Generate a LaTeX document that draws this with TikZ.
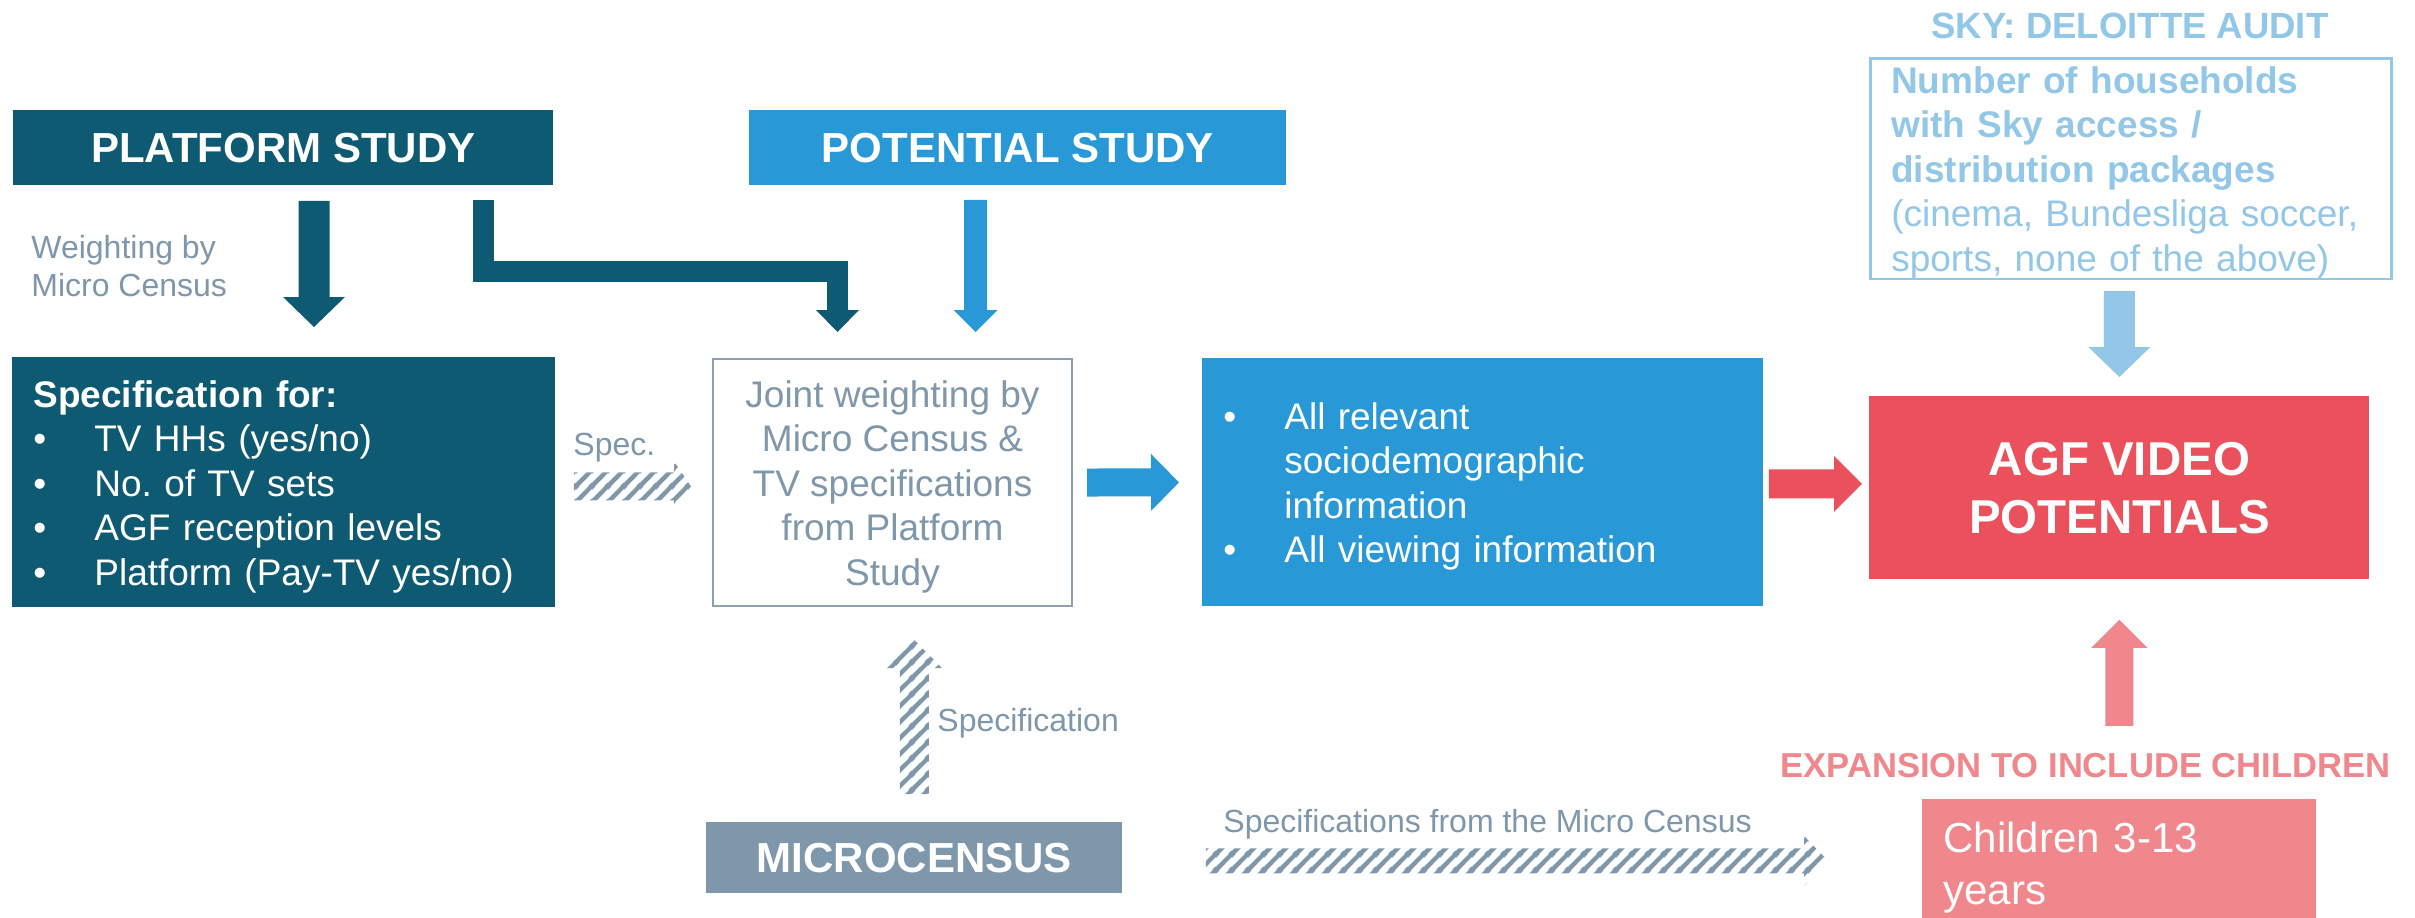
\documentclass[tikz,border=0pt]{standalone}
\usepackage{fontspec}
\setmainfont{Liberation Sans}
\usetikzlibrary{calc,patterns}
\definecolor{cTeal}{HTML}{0F5A73}
\definecolor{cBlue}{HTML}{2899D6}
\definecolor{cGray}{HTML}{7F97AB}
\definecolor{cFrame}{HTML}{8E9FB0}
\definecolor{cSky}{HTML}{93C7E8}
\definecolor{cRed}{HTML}{EA515C}
\definecolor{cPink}{HTML}{F0878C}

\pgfdeclarepatternformonly{hstripes}{\pgfqpoint{0pt}{0pt}}{\pgfqpoint{8pt}{8pt}}{\pgfqpoint{8pt}{8pt}}{%
  \pgfsetlinewidth{2.3pt}%
  \pgfpathmoveto{\pgfqpoint{-1pt}{-1pt}}\pgfpathlineto{\pgfqpoint{9pt}{9pt}}%
  \pgfpathmoveto{\pgfqpoint{-1pt}{7pt}}\pgfpathlineto{\pgfqpoint{1pt}{9pt}}%
  \pgfpathmoveto{\pgfqpoint{7pt}{-1pt}}\pgfpathlineto{\pgfqpoint{9pt}{1pt}}%
  \pgfusepath{stroke}}

% #1 options, #2 start, #3 tip, #4 half shaft, #5 half head, #6 head length
\newcommand\blockarrow[6]{%
  \coordinate (babase) at ($(#3)!#6!(#2)$);
  \path[#1] ($(#2)!#4!90:(#3)$) -- ($(babase)!#4!90:(#3)$) -- ($(babase)!#5!90:(#3)$) -- (#3)
     -- ($(babase)!#5!-90:(#3)$) -- ($(babase)!#4!-90:(#3)$) -- ($(#2)!#4!-90:(#3)$) -- cycle;%
}
\newcommand\fs[2]{\fontsize{#1}{#2}\selectfont}
\newcommand\topstrut{\rule{0pt}{17.5pt}}
\frenchspacing

\begin{document}
\begin{tikzpicture}[x=0.5pt,y=-0.5pt,
  box/.style={rectangle, inner sep=0pt, anchor=north west, text=white},
  headfont/.style={font=\bfseries\fs{21pt}{25pt}},
  body/.style={font=\fs{18.5pt}{22.25pt}},
  lbl/.style={text=cGray, inner sep=0pt, font=\fs{16pt}{19pt}},
  hatch/.style={pattern=hstripes, pattern color=cGray},
]
\path[use as bounding box, fill=white] (0,0) rectangle (2415,917);

% ---------- boxes ----------
\node[box, fill=cTeal, minimum width=270pt, minimum height=37.5pt, headfont] (platform) at (13,110) {PLATFORM STUDY};
\node[box, fill=cBlue, minimum width=268.5pt, minimum height=37.5pt, headfont] (potential) at (749,110) {POTENTIAL STUDY};

\node[box, fill=cTeal, minimum width=271.5pt, minimum height=125pt, body, align=left,
      inner xsep=10.5pt, text width=250.5pt] (spec) at (12,357)
  {\topstrut\textbf{Specification for:}\\
   \makebox[30.5pt][l]{•}TV HHs (yes/no)\\
   \makebox[30.5pt][l]{•}No. of TV sets\\
   \makebox[30.5pt][l]{•}AGF reception levels\\
   \makebox[30.5pt][l]{•}Platform (Pay-TV yes/no)};

\node[box, draw=cFrame, line width=1pt, text=cGray, minimum width=179.5pt, minimum height=123.5pt,
      body, align=center] (joint) at (712,358)
  {\topstrut Joint weighting by\\Micro Census \&\\TV specifications\\from Platform\\Study};

\node[box, fill=cBlue, minimum width=280.5pt, minimum height=124pt, body, align=left,
      inner xsep=10.5pt, text width=259.5pt] (blue) at (1202,358)
  {\topstrut\makebox[30.5pt][l]{•}All relevant\\
   \hspace*{30.5pt}sociodemographic\\
   \hspace*{30.5pt}information\\
   \makebox[30.5pt][l]{•}All viewing information};

\node[box, fill=cRed, minimum width=250pt, minimum height=91.5pt, align=center,
      font=\bfseries\fs{23.75pt}{29pt}] (agf) at (1869,396) {AGF VIDEO\\POTENTIALS};

\node[box, draw=cSky, line width=1.25pt, text=cSky, minimum width=260.5pt, minimum height=109.5pt,
      body, align=left, inner xsep=10.5pt, text width=239.5pt] (sky) at (1869,57)
  {\topstrut\textbf{Number of households}\\
   \textbf{with Sky access /}\\
   \textbf{distribution packages}\\
   (cinema, Bundesliga soccer,\\
   sports, none of the above)};

\node[box, fill=cGray, minimum width=208pt, minimum height=35.5pt,
      font=\bfseries\fs{21pt}{25pt}] (micro) at (706,822) {MICROCENSUS};

\node[box, fill=cPink, minimum width=197pt, minimum height=68pt, align=left,
      inner xsep=10.5pt, text width=176pt, font=\fs{21pt}{26pt}] (children) at (1922,799)
  {Children 3-13\\years};

% ---------- labels ----------
\node[lbl, anchor=west, align=left] (wlabel) at (31,266) {Weighting by\\Micro Census};
\node[lbl, anchor=base west] (speclbl) at (573,455) {Spec.};
\node[lbl, anchor=base west] (spec2lbl) at (937,731) {Specification};
\node[lbl, anchor=base west] (spec3lbl) at (1223,832) {Specifications from the Micro Census};
\node[anchor=base, inner sep=0pt, text=cSky, font=\bfseries\fs{18.25pt}{22pt}] (skytitle) at (2130,38) {SKY: DELOITTE AUDIT};
\node[anchor=base, inner sep=0pt, text=cPink, font=\bfseries\fs{17.3pt}{20pt}] (exptitle) at (2085.5,777) {EXPANSION TO INCLUDE CHILDREN};

% ---------- solid arrows ----------
\coordinate (cx1) at (314,0);
\coordinate (a1s) at ($(platform.south -| cx1)+(0,15)$);
\coordinate (a1t) at ($(spec.north -| cx1)+(0,-30)$);
\blockarrow{fill=cTeal}{a1s}{a1t}{7.75pt}{15.5pt}{15pt}

\coordinate (bx1) at (483.5,271);
\coordinate (bx2) at (837.5,271);
\draw[cTeal, line width=10.5pt, line join=miter] ($(platform.south -| bx1)+(0,14)$) -- (bx1) -- (bx2) -- ($(joint.north -| bx2)+(0,-40)$);
\coordinate (a3s) at ($(joint.north -| bx2)+(0,-50)$);
\coordinate (a3t) at ($(joint.north -| bx2)+(0,-26)$);
\blockarrow{fill=cTeal}{a3s}{a3t}{5.25pt}{10.75pt}{11pt}

\coordinate (cx2) at (975.5,0);
\coordinate (a2s) at ($(potential.south -| cx2)+(0,14)$);
\coordinate (a2t) at ($(joint.north -| cx2)+(0,-26)$);
\blockarrow{fill=cBlue}{a2s}{a2t}{5.75pt}{11pt}{11pt}

\coordinate (a4s) at ($(joint.east)+(14,0)$);
\coordinate (a4t) at ($(blue.west)+(-23,0)$);
\blockarrow{fill=cBlue}{a4s}{a4t}{7pt}{14.25pt}{14pt}

\coordinate (a5s) at ($(blue.east)+(5,1.5)$);
\coordinate (a5t) at ($(agf.west |- a5s)+(-7,0)$);
\blockarrow{fill=cRed}{a5s}{a5t}{7.25pt}{14pt}{14pt}

\coordinate (a6s) at ($(sky.south -| agf.north)+(0,11)$);
\coordinate (a6t) at ($(agf.north)+(0,-19)$);
\blockarrow{fill=cSky}{a6s}{a6t}{7.75pt}{15.5pt}{15pt}

\coordinate (a7s) at ($(agf.south)+(0,146)$);
\coordinate (a7t) at ($(agf.south)+(0,40)$);
\blockarrow{fill=cPink}{a7s}{a7t}{7pt}{14pt}{14pt}

% ---------- hatched arrows ----------
\coordinate (h1s) at ($(spec.east)+(18,4)$);
\coordinate (h1t) at ($(joint.west)+(-21,4)$);
\blockarrow{hatch}{h1s}{h1t}{7pt}{12.5pt}{8.5pt}

\coordinate (h2s) at ($(micro.north)+(0,-28)$);
\coordinate (h2t) at ($(joint.south -| micro.north)+(0,33)$);
\blockarrow{hatch}{h2s}{h2t}{7.25pt}{13.75pt}{14pt}

\coordinate (h3s) at ($(micro.east)+(83,3)$);
\coordinate (h3t) at ($(children.west |- h3s)+(-94,0)$);
\blockarrow{hatch}{h3s}{h3t}{6.25pt}{12.5pt}{12pt}
\end{tikzpicture}
\end{document}
